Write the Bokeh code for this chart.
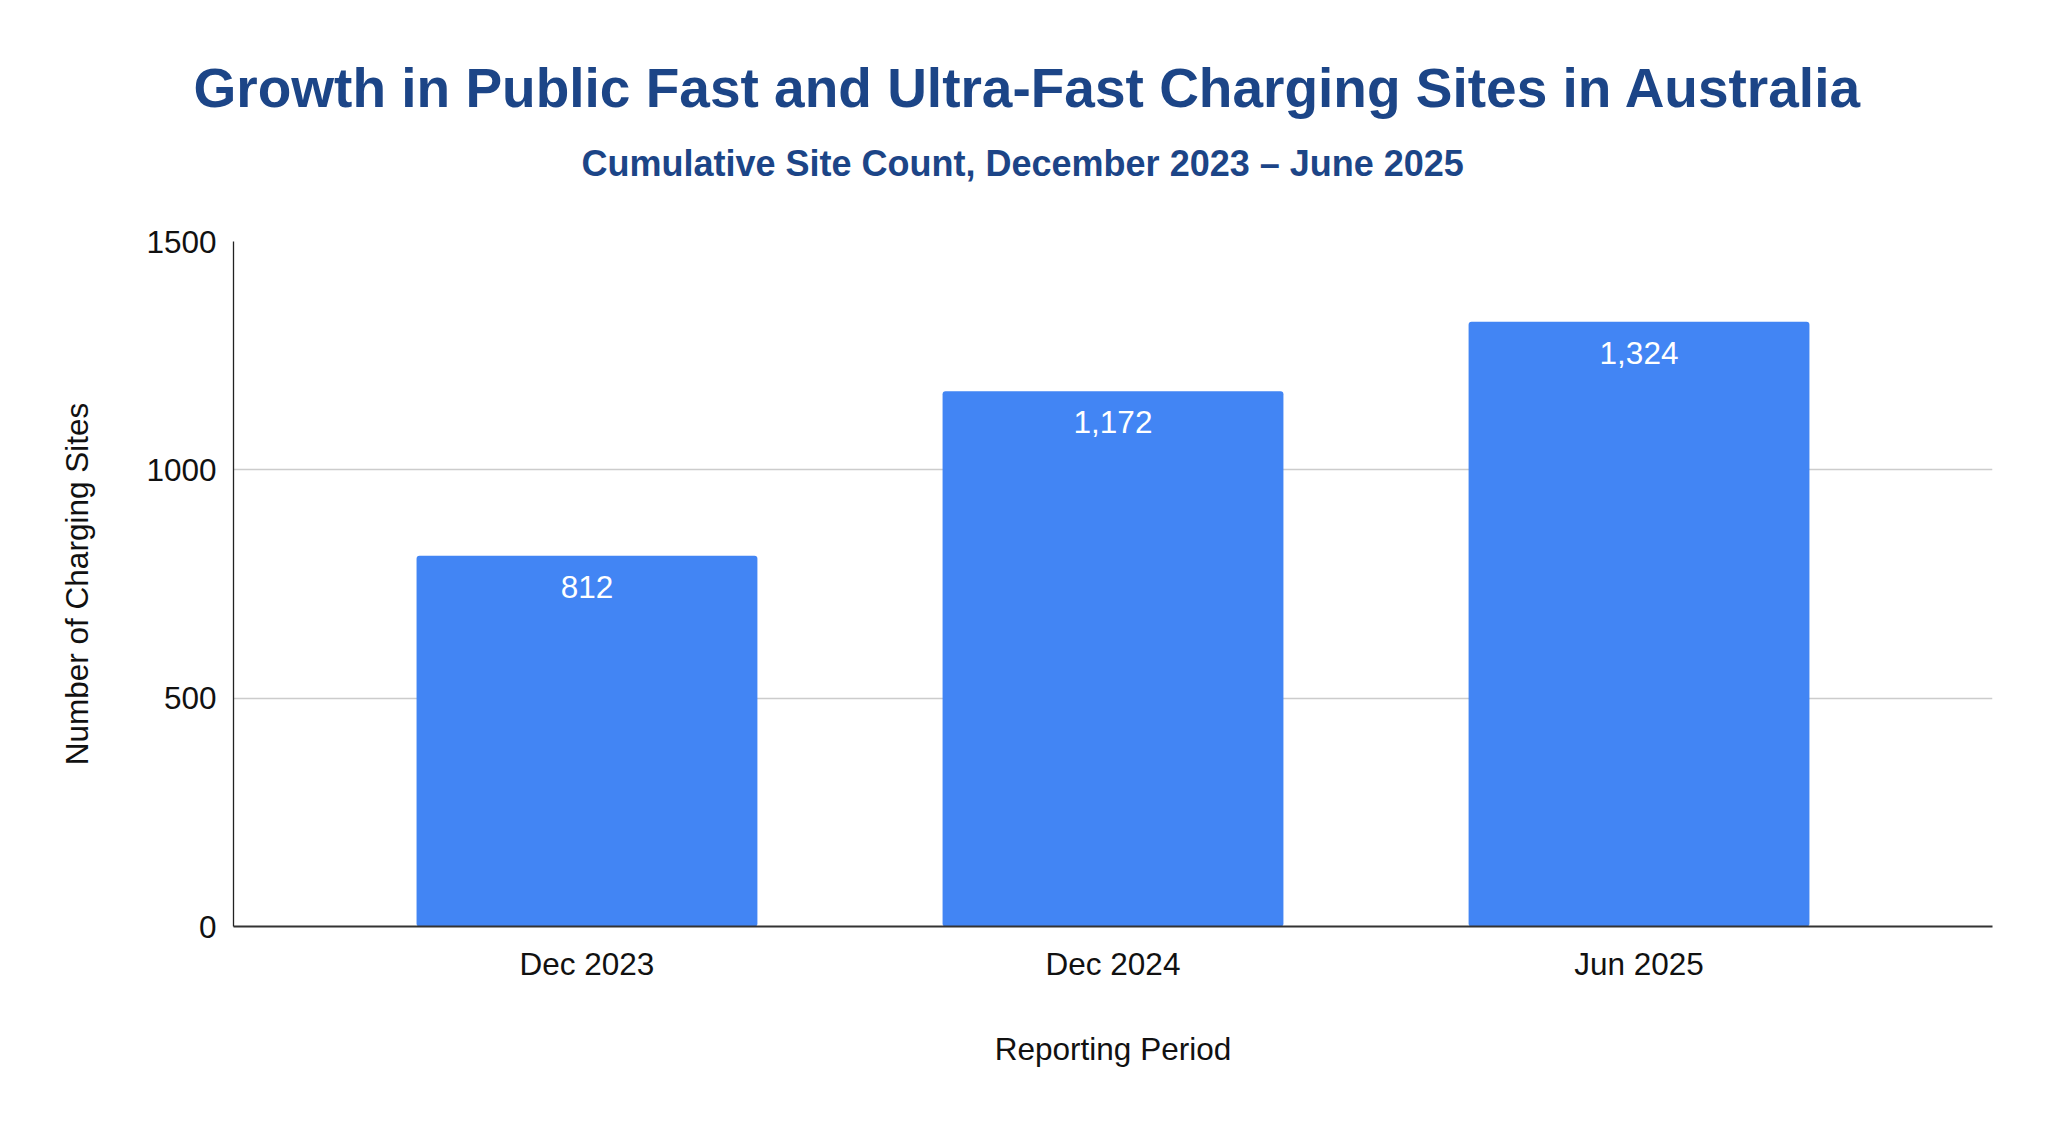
from bokeh.plotting import figure
from bokeh.models import ColumnDataSource, FactorRange, Range1d, LabelSet, Title, FixedTicker
from bokeh.core.properties import value
from bokeh.embed import file_html
from bokeh.resources import INLINE

# ---- data ----
categories = ["Dec 2023", "Dec 2024", "Jun 2025"]
site_counts = [812, 1172, 1324]
y_ticks = [0, 500, 1000, 1500]
title_text = "Growth in Public Fast and Ultra-Fast Charging Sites in Australia"
subtitle_text = "Cumulative Site Count, December 2023 \u2013 June 2025"
x_title = "Reporting Period"
y_title = "Number of Charging Sites"

bar_labels = [f"{v:,}" for v in site_counts]

FONT = "Liberation Sans"
TITLE_COLOR = "#1c4587"
BAR_COLOR = "#4285f4"

source = ColumnDataSource(dict(cat=categories, val=site_counts, lab=bar_labels))

p = figure(
    width=2032, height=1108,
    x_range=FactorRange(factors=categories, range_padding=0.172, range_padding_units="absolute"),
    y_range=Range1d(0, 1500),
    output_backend="svg", toolbar_location=None, title=None,
    min_border_left=233, min_border_right=40, min_border_top=241, min_border_bottom=182,
)
p.outline_line_color = None
p.background_fill_color = "white"
p.border_fill_color = "white"

p.vbar(x="cat", top="val", width=0.648, source=source, fill_color=BAR_COLOR,
       line_color=None, border_radius=3)

labels = LabelSet(x="cat", y="val", text="lab", source=source, y_offset=-31,
                  text_align="center", text_baseline="middle", text_color="white",
                  text_font=value(FONT), text_font_size="31.5px")
p.add_layout(labels)

# grid
p.xgrid.grid_line_color = None
p.ygrid.grid_line_color = "#cccccc"
p.ygrid.grid_line_width = 1.3

# axes
p.yaxis.ticker = FixedTicker(ticks=y_ticks)
for ax in (p.xaxis[0], p.yaxis[0]):
    ax.major_tick_line_color = None
    ax.minor_tick_line_color = None
    ax.major_label_text_font = FONT
    ax.major_label_text_font_size = "31.5px"
    ax.major_label_text_color = "#111111"
    ax.axis_label_text_font = FONT
    ax.axis_label_text_font_size = "31.5px"
    ax.axis_label_text_font_style = "normal"
    ax.axis_label_text_color = "#111111"

p.xaxis.axis_label = x_title
p.yaxis.axis_label = y_title
p.xaxis.major_label_standoff = 13
p.yaxis.major_label_standoff = 11
p.xaxis.axis_label_standoff = 46
p.yaxis.axis_label_standoff = 48
p.yaxis.axis_line_color = "#222222"
p.yaxis.axis_line_width = 1.3
p.xaxis.axis_line_color = "#333333"
p.xaxis.axis_line_width = 1.8

sub = Title(text=subtitle_text, align="left", offset=348, standoff=116,
            text_font=FONT, text_font_size="36px", text_font_style="bold",
            text_color=TITLE_COLOR)
main = Title(text=title_text, align="left", offset=-40, standoff=-73,
             text_font=FONT, text_font_size="55px", text_font_style="bold",
             text_color=TITLE_COLOR)
p.add_layout(sub, "above")
p.add_layout(main, "above")

open("out.html", "w").write(file_html(p, INLINE))
